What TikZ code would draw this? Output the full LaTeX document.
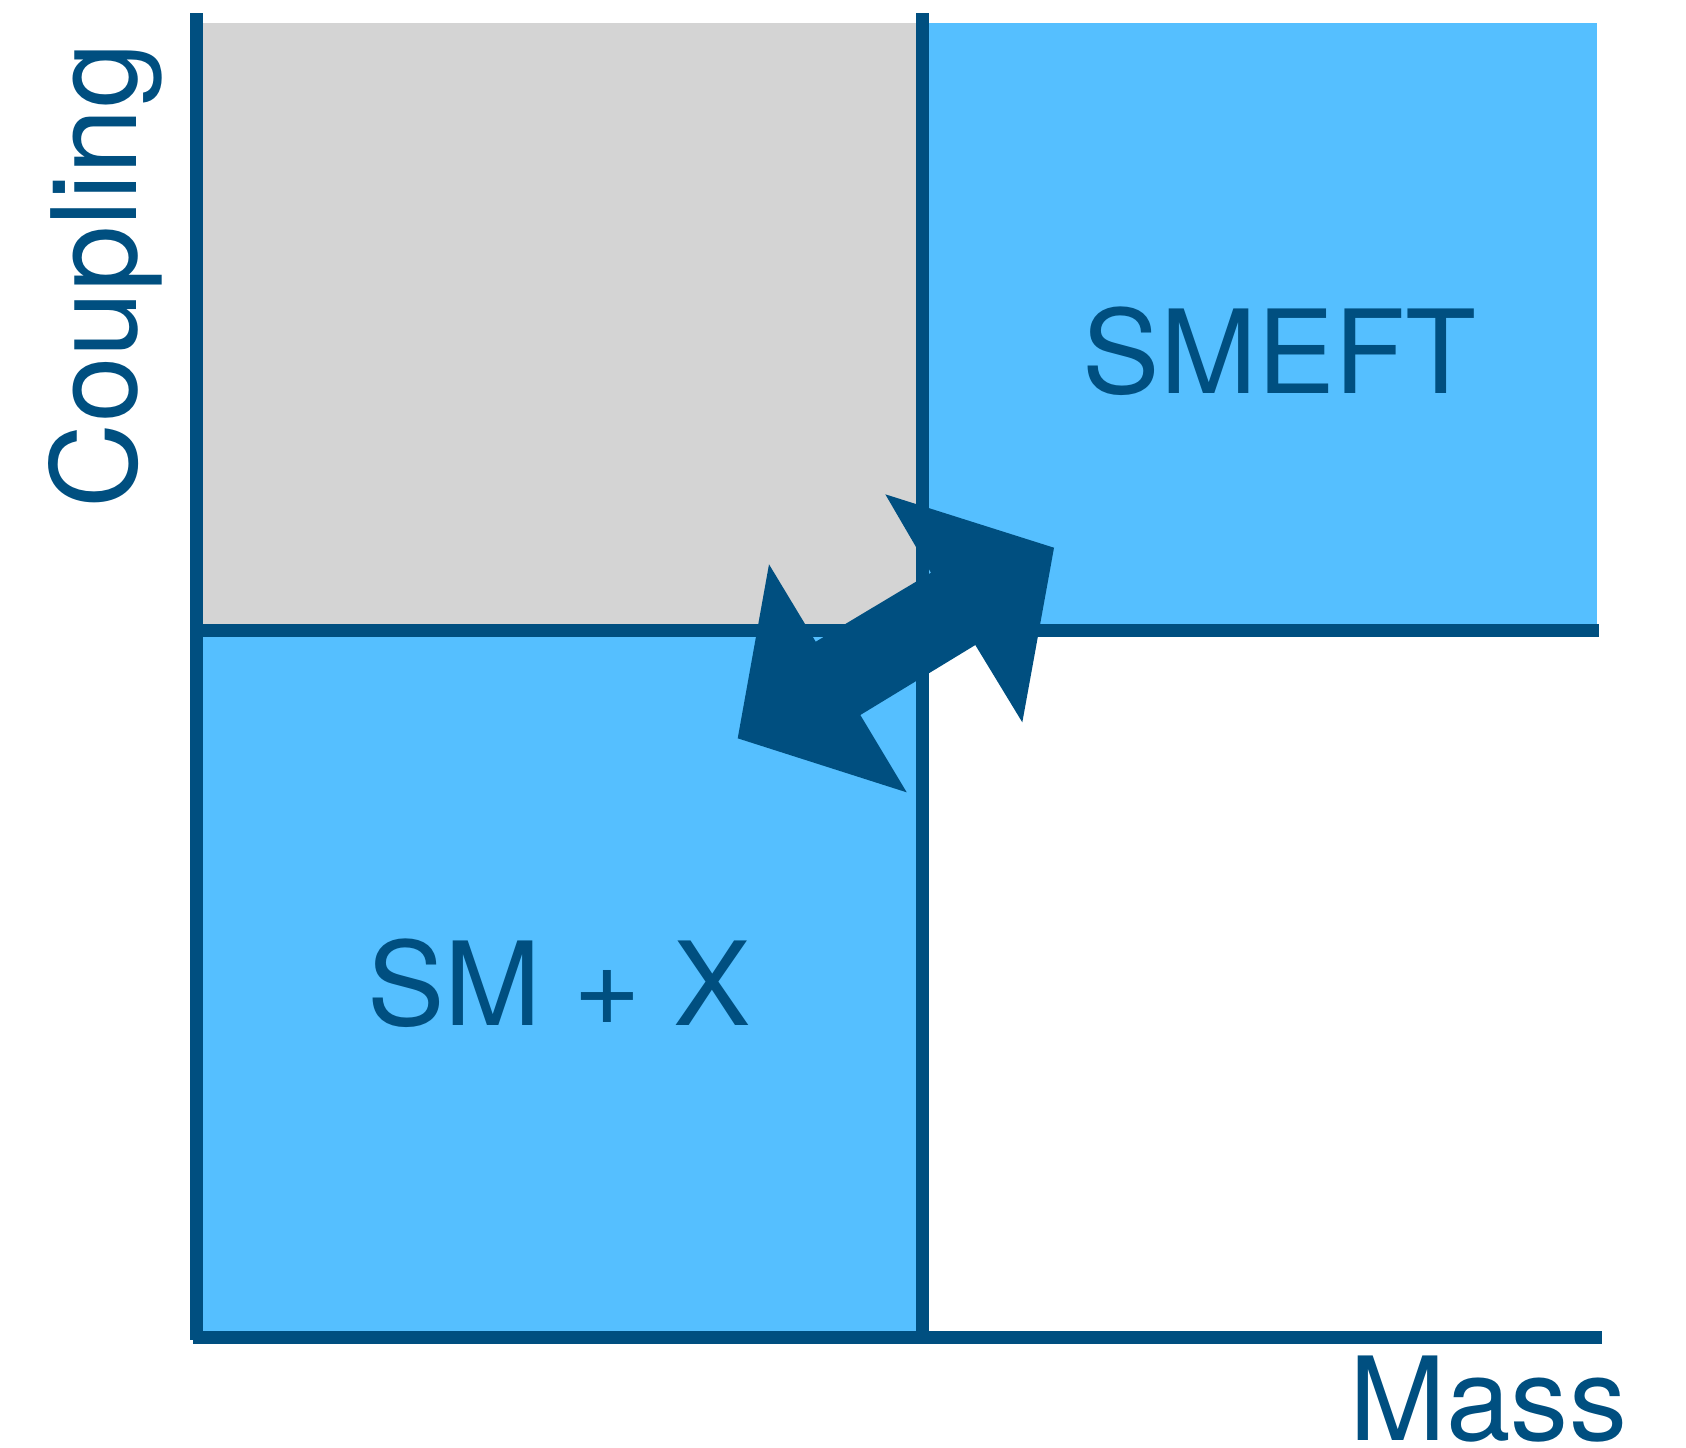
\documentclass[tikz,border=0pt]{standalone}
\usepackage{fontspec}
\setmainfont{TeX Gyre Heros}
\definecolor{axisblue}{RGB}{0,79,128}
\definecolor{regionblue}{RGB}{85,191,255}
\definecolor{regiongray}{RGB}{212,212,212}
\begin{document}
\begin{tikzpicture}[x=0.01cm,y=-0.01cm,
  axisline/.style={draw=axisblue,line width=0.13cm,line cap=butt},
  label/.style={text=axisblue,font=\fontsize{33}{33}\selectfont,inner sep=0pt,outer sep=0pt}]
\useasboundingbox (0,0) rectangle (1686,1447);
% regions
\fill[regiongray] (196,23) rectangle (922,630);
\fill[regionblue] (922,23) rectangle (1597,630);
\fill[regionblue] (196,630) rectangle (922,1337);
% axes and dividing lines
\coordinate (ytop) at (196,13);
\coordinate (ybot) at (196,1340);
\coordinate (mtop) at (922,13);
\coordinate (mbot) at (922,1337);
\coordinate (hl) at (190,630);
\coordinate (hr) at (1599,630);
\coordinate (xl) at (193,1337);
\coordinate (xr) at (1602,1337);
\draw[axisline] (ytop) -- (ybot);
\draw[axisline] (mtop) -- (mbot);
\draw[axisline] (hl) -- (hr);
\draw[axisline] (xl) -- (xr);
% double-headed block arrow between the two regions
\coordinate (A) at (885.3,494.3);
\coordinate (B) at (1054,547.7);
\coordinate (C) at (1022.3,722.3);
\coordinate (H) at (975.3,645);
\coordinate (G) at (860.3,715);
\coordinate (F) at (906.7,792.3);
\coordinate (E) at (737.7,738.3);
\coordinate (D) at (769,564.3);
\coordinate (Nl) at (815.7,641.7);
\coordinate (Nu) at (931,572.7);
\fill[axisblue] (A) -- (B) -- (C) -- (H) -- (G) -- (F) -- (E) -- (D) -- (Nl) -- (Nu) -- cycle;
% labels
\node[label,anchor=base] (smeft) at (1279.6,393.6) {SMEFT};
\node[label,anchor=base] (smx) at (559,1025.8) {SM + X};
\node[label,anchor=base east] (mass) at (1627,1440) {Mass};
\node[label,anchor=base west,rotate=90,font=\fontsize{33.5}{33.5}\selectfont] (coupling) at (136.6,508) {Coupling};
\end{tikzpicture}
\end{document}
